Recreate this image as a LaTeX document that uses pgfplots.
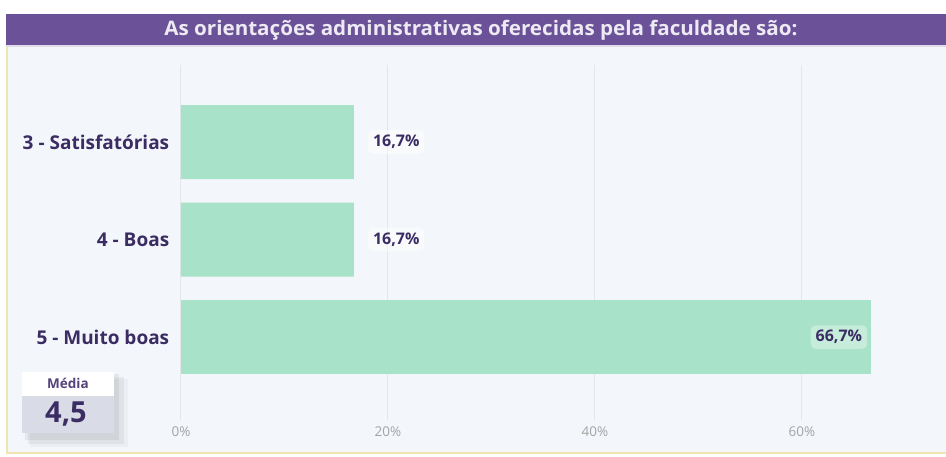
\documentclass[border=0pt]{standalone}
\usepackage{pgfplots}
\pgfplotsset{compat=1.18}
\usepackage{fontspec}
\setmainfont{Open Sans}
\definecolor{bg}{HTML}{F3F7FB}
\definecolor{titlebar}{HTML}{6B5298}
\definecolor{barc}{HTML}{A8E2C9}
\definecolor{dark}{HTML}{3B2D63}
\definecolor{gridc}{HTML}{E4E6EA}
\definecolor{tickc}{HTML}{A3A3A3}
\definecolor{borderc}{HTML}{F1E4AE}
\definecolor{mediab}{HTML}{D9DBE7}
\begin{document}
\begin{tikzpicture}[x=1pt,y=1pt]
\useasboundingbox (0,0) rectangle (946,457);
\fill[white] (0,0) rectangle (946,457);
\fill[bg] (6,3) rectangle (946,443);
\draw[borderc,line width=2pt] (7,443) -- (7,4) -- (946,4);
\fill[titlebar] (6,411) rectangle (946,443);
\fill[white!80!titlebar] (6,410) rectangle (946,411.5);
\node[text=white!88!titlebar,font=\fontsize{20}{22}\selectfont\bfseries] at (481,427) {\scalebox{1.03}[1]{As orientações administrativas oferecidas pela faculdade são:}};
\begin{axis}[
  at={(181pt,37pt)}, anchor=south west,
  scale only axis, width=745.2pt, height=355pt,
  xmin=0, xmax=72, ymin=-0.85, ymax=2.79,
  xbar, bar width=74pt, bar shift=0pt,
  axis line style={draw=none}, tick style={draw=none},
  /pgf/number format/assume math mode=true,
  xtick={0,20,40,60}, xticklabel={\pgfmathprintnumber{\tick}\%},
  xticklabel style={text=tickc,font=\fontsize{13.5}{15}\selectfont,yshift=-3pt},
  ytick={0,1,2}, yticklabels={5 - Muito boas,4 - Boas,3 - Satisfatórias},
  yticklabel style={text=dark,font=\fontsize{19}{22}\selectfont\bfseries,xshift=-4pt},
  xmajorgrids, grid style={gridc,line width=1pt},
  clip=false,
  nodes near coords={\pgfmathprintnumber[fixed,fixed zerofill,precision=1,use comma,assume math mode=true]{\pgfplotspointmeta}\%},
  nodes near coords style={text=dark,font=\fontsize{16}{18}\selectfont\bfseries,rounded corners=5pt,inner sep=5pt},
]
\addplot[fill=barc,draw=none,nodes near coords style={anchor=west,xshift=14pt,fill=white,fill opacity=0.45,text opacity=1}] coordinates {(16.7,2) (16.7,1)};
\addplot[fill=barc,draw=none,nodes near coords style={anchor=east,xshift=-4pt,fill=white,fill opacity=0.35,text opacity=1}] coordinates {(66.7,0)};
\end{axis}
% Media card
\fill[black,opacity=0.03] (30,10) rectangle (128,78);
\fill[black,opacity=0.05] (28,13) rectangle (124,80);
\fill[black,opacity=0.06] (25,17) rectangle (119,83);
\fill[white] (22,61) rectangle (114,85);
\fill[mediab] (22,24) rectangle (114,61);
\node[text=titlebar!80!black,font=\fontsize{13.5}{15}\selectfont\bfseries] at (68,74) {Média};
\node[text=dark,font=\fontsize{29}{32}\selectfont\bfseries] at (66,43) {4,5};
\end{tikzpicture}
\end{document}
